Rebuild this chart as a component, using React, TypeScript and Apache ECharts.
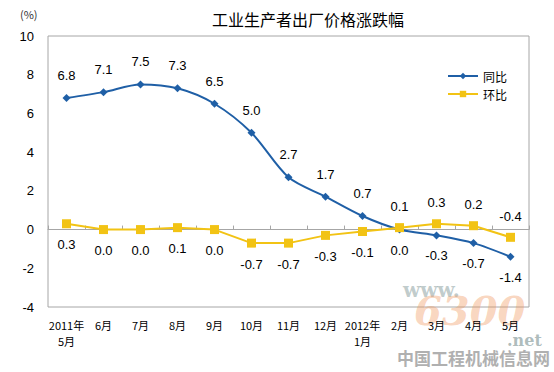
import React, { useEffect, useRef } from "react";
import * as echarts from "echarts";

const categories = ["2011年\n5月", "6月", "7月", "8月", "9月", "10月", "11月", "12月", "2012年\n1月", "2月", "3月", "4月", "5月"];
const yoy = [6.8, 7.1, 7.5, 7.3, 6.5, 5.0, 2.7, 1.7, 0.7, 0.0, -0.3, -0.7, -1.4];
const mom = [0.3, 0.0, 0.0, 0.1, 0.0, -0.7, -0.7, -0.3, -0.1, 0.1, 0.3, 0.2, -0.4];
const yoyBelowFrom = 9;
const momAboveFrom = 9;

const FONT = "'Noto Sans CJK SC', 'DejaVu Sans', sans-serif";
const NUMFONT = "'Liberation Sans', Arial, sans-serif";

export default function App() {
  const ref = useRef<HTMLDivElement>(null);
  useEffect(() => {
    const chart = echarts.init(ref.current!, undefined, { renderer: "svg" });
    chart.setOption({
      animation: false,
      backgroundColor: "#fff",
      textStyle: { fontFamily: FONT },
      title: {
        text: "工业生产者出厂价格涨跌幅",
        left: 303,
        textAlign: "center",
        top: 6,
        textStyle: { fontSize: 16, fontWeight: "normal", color: "#000", fontFamily: FONT },
      },
      graphic: [
        { type: "text", left: 20, top: 8, style: { text: "(%)", fontSize: 11, fill: "#333", fontFamily: FONT } },
        { type: "text", left: 403, top: 280, style: { text: "www.", fontSize: 20, fill: "rgba(140,160,160,0.55)", fontWeight: "bold", fontFamily: "'DejaVu Serif', serif" } },
        { type: "text", left: 414, top: 290, style: { text: "6300", fontSize: 40, fontStyle: "italic", fill: "rgba(240,150,90,0.4)", fontWeight: "bold", fontFamily: "'DejaVu Serif', serif" } },
        { type: "text", left: 507, top: 332, style: { text: ".net", fontSize: 16, fill: "rgba(140,160,160,0.7)", fontWeight: "bold", fontFamily: "'DejaVu Serif', serif" } },
        { type: "text", left: 397, top: 349, style: { text: "中国工程机械信息网", fontSize: 17, fill: "#b0b0b0", fontWeight: "bold", fontFamily: FONT } },
      ],
      legend: {
        orient: "vertical",
        right: 42,
        top: 65,
        itemGap: 6,
        itemWidth: 30,
        itemHeight: 8,
        textStyle: { fontSize: 12, color: "#000", fontFamily: FONT },
        data: ["同比", "环比"],
      },
      grid: { left: 48, right: 25, top: 36, bottom: 65, show: true, borderColor: "#a6a6a6", borderWidth: 1 },
      xAxis: {
        type: "category",
        data: categories,
        boundaryGap: true,
        axisLine: { lineStyle: { color: "#a6a6a6" } },
        axisTick: { show: true, lineStyle: { color: "#a6a6a6" }, length: 4, inside: true },
        axisLabel: { color: "#000", fontSize: 11, interval: 0, margin: 10, lineHeight: 16, fontFamily: FONT },
      },
      yAxis: {
        type: "value",
        min: -4,
        max: 10,
        interval: 2,
        splitLine: { show: false },
        axisLine: { show: false },
        axisTick: { show: false },
        axisLabel: { color: "#000", fontSize: 13, margin: 14, fontFamily: NUMFONT },
      },
      series: [
        {
          name: "同比",
          type: "line",
          smooth: 0.3,
          data: yoy.map((v, i) => ({
            value: v,
            label: { position: i >= yoyBelowFrom ? "bottom" : "top", distance: i >= yoyBelowFrom ? 10 : 12 },
          })),
          symbol: "diamond",
          symbolSize: 8,
          lineStyle: { color: "#1f5fa6", width: 2 },
          itemStyle: { color: "#1f5fa6" },
          label: { show: true, fontSize: 13, color: "#000", formatter: (p: any) => p.value.toFixed(1), fontFamily: NUMFONT },
        },
        {
          name: "环比",
          type: "line",
          data: mom.map((v, i) => ({
            value: v,
            label: { position: i >= momAboveFrom ? "top" : "bottom", distance: 10 },
          })),
          symbol: "rect",
          symbolSize: 9,
          lineStyle: { color: "#f2c314", width: 2 },
          itemStyle: { color: "#f2c314" },
          label: { show: true, fontSize: 13, color: "#000", formatter: (p: any) => p.value.toFixed(1), fontFamily: NUMFONT },
        },
      ],
    });
    return () => chart.dispose();
  }, []);
  return <div ref={ref} style={{ position: "absolute", left: 0, top: 0, width: 554, height: 372 }} />;
}
